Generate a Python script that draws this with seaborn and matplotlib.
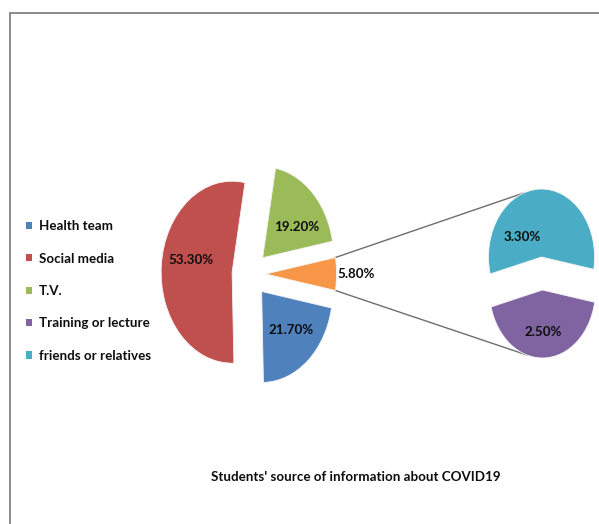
import matplotlib
matplotlib.use("Agg")
import matplotlib.pyplot as plt
import numpy as np
import seaborn as sns
from matplotlib.patches import Patch
from matplotlib.lines import Line2D

# Source categories and their shares (% of students)
categories = ["Health team", "Social media", "T.V.", "Training or lecture", "friends or relatives"]
main_labels = ["Other", "Health team", "Social media", "T.V."]
main_values = [5.8, 21.7, 53.3, 19.2]
second_labels = ["friends or relatives", "Training or lecture"]
second_values = [3.3, 2.5]
title_text = "Students' source of information about COVID19"

sns.set_theme(style="white")
plt.rcParams["font.family"] = ["Lato", "DejaVu Sans"]

colors = {
    "Health team": "#4F81BD",
    "Social media": "#C0504D",
    "T.V.": "#9BBB59",
    "Training or lecture": "#8064A2",
    "friends or relatives": "#4BACC6",
    "Other": "#F79646",
}

W, H = 599, 524
fig = plt.figure(figsize=(W / 100, H / 100), dpi=100)
ax = fig.add_axes([0, 0, 1, 1])

# horizontal squeeze of the drawing area (circles appear as upright ellipses)
sx = 0.78
main_center = (250 / sx, H - 274)
main_r = 91
sec_center = (542 / sx, H - 273.5)
sec_r = 68

# primary pie: "Other" slice centred on the right, clockwise
# (explode offsets are in data units)
other_span = main_values[0] / 100 * 360
main_wedges, _ = ax.pie(
    main_values,
    colors=[colors[k] for k in main_labels],
    startangle=other_span / 2,
    counterclock=False,
    center=main_center,
    radius=main_r,
    explode=[20, 23, 23, 23],
    wedgeprops=dict(linewidth=0.6, edgecolor="#f4f4f4"),
    frame=True,
)

# secondary pie built from the "Other" slice
sec_wedges, _ = ax.pie(
    second_values,
    colors=[colors[k] for k in second_labels],
    startangle=-10.4,
    counterclock=True,
    center=sec_center,
    radius=sec_r,
    explode=[16.5, 16.5],
    wedgeprops=dict(linewidth=0.6, edgecolor="#f4f4f4"),
    frame=True,
)


def label_pos(w, frac, dang=0.0):
    mid = np.deg2rad((w.theta1 + w.theta2) / 2 + dang)
    cx, cy = w.center
    return cx + w.r * frac * np.cos(mid), cy + w.r * frac * np.sin(mid)


FS = 9.6
TXT = "#0d0d0d"
font_kw = dict(fontsize=FS, fontweight="bold", color=TXT, ha="center", va="center")

# values inside primary pie slices
main_label_style = {"Health team": (0.60, 4), "Social media": (0.60, -8), "T.V.": (0.59, -10)}
for w, name, v in zip(main_wedges, main_labels, main_values):
    if name == "Other":
        x, y = label_pos(w, 1.27)
    else:
        frac, da = main_label_style[name]
        x, y = label_pos(w, frac, da)
    ax.text(x, y, f"{v:.2f}%", **font_kw)

sec_label_style = {"friends or relatives": (0.47, 49), "Training or lecture": (0.62, 0)}
for w, name, v in zip(sec_wedges, second_labels, second_values):
    frac, da = sec_label_style[name]
    x, y = label_pos(w, frac, da)
    ax.text(x, y, f"{v:.2f}%", **font_kw)

# connector lines from the "Other" slice to the secondary pie
ow = main_wedges[0]
ocx, ocy = ow.center
top_start = (ocx + ow.r * np.cos(np.deg2rad(ow.theta2)), ocy + ow.r * np.sin(np.deg2rad(ow.theta2)))
bot_start = (ocx + ow.r * np.cos(np.deg2rad(ow.theta1)), ocy + ow.r * np.sin(np.deg2rad(ow.theta1)))
cw, pw = sec_wedges
top_end = (cw.center[0] + cw.r * np.cos(np.deg2rad(110)), cw.center[1] + cw.r * np.sin(np.deg2rad(110)))
bot_end = (pw.center[0] + pw.r * np.cos(np.deg2rad(-107)), pw.center[1] + pw.r * np.sin(np.deg2rad(-107)))
for s, e in [(top_start, top_end), (bot_start, bot_end)]:
    ax.plot([s[0], e[0]], [s[1], e[1]], color="#6e6e6e", linewidth=1.0, zorder=0)

ax.set_aspect("auto")
ax.set_xlim(0, W / sx)
ax.set_ylim(0, H)
ax.axis("off")

# legend
handles = [Patch(facecolor=colors[c], edgecolor="none") for c in categories]
leg = ax.legend(
    handles, categories,
    loc="center left",
    bbox_to_anchor=(26 / W, 1 - 291 / H),
    bbox_transform=fig.transFigure,
    frameon=False,
    fontsize=FS,
    handlelength=0.45,
    handleheight=0.45,
    handletextpad=0.5,
    labelspacing=1.53,
    borderpad=0,
    borderaxespad=0,
)
for t in leg.get_texts():
    t.set_fontweight("bold")
    t.set_color(TXT)

# chart title below the pies
fig.text(356 / W, 1 - 477 / H, title_text, ha="center", va="center",
         fontsize=FS, fontweight="bold", color=TXT)

# chart-area border (top and left edges)
fig.add_artist(Line2D([9.5 / W, 1], [1 - 13 / H, 1 - 13 / H], transform=fig.transFigure,
                      color="#8a8a8a", linewidth=1.4))
fig.add_artist(Line2D([9.5 / W, 9.5 / W], [0, 1 - 13 / H], transform=fig.transFigure,
                      color="#8a8a8a", linewidth=1.4))

fig.savefig("out.png", dpi=100, facecolor="white")
